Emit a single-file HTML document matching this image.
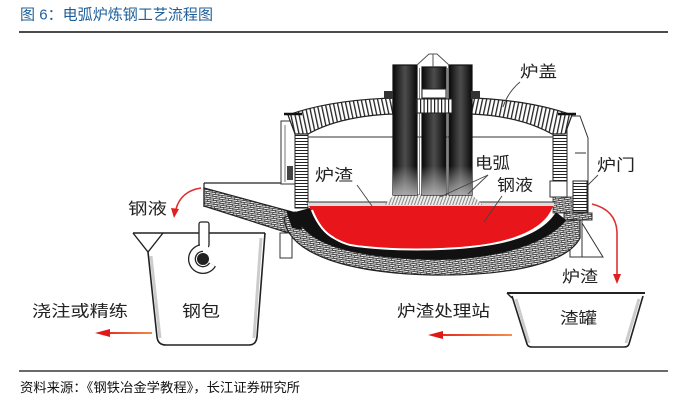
<!DOCTYPE html>
<html><head><meta charset="utf-8">
<style>
html,body{margin:0;padding:0;background:#fff;}
body{width:684px;height:406px;overflow:hidden;}
svg{display:block;}
text{font-family:"Liberation Sans","Noto Sans CJK SC",sans-serif;}
</style></head><body>
<svg width="684" height="406" viewBox="0 0 684 406" xmlns="http://www.w3.org/2000/svg">
<defs>
  <pattern id="vsl" width="4" height="4" patternUnits="userSpaceOnUse" patternTransform="rotate(-12)"><rect width="4" height="4" fill="#fff"/><rect width="1.3" height="4" fill="#222"/></pattern>
  <pattern id="vsr" width="4" height="4" patternUnits="userSpaceOnUse" patternTransform="rotate(12)"><rect width="4" height="4" fill="#fff"/><rect width="1.3" height="4" fill="#222"/></pattern>
  <pattern id="vs" width="3.5" height="4" patternUnits="userSpaceOnUse"><rect width="3.5" height="4" fill="#fff"/><rect width="1.2" height="4" fill="#222"/></pattern>
  <pattern id="hs" width="4" height="3" patternUnits="userSpaceOnUse"><rect width="4" height="3" fill="#fff"/><rect width="4" height="1" fill="#222"/></pattern>
  <pattern id="br" width="6" height="4" patternUnits="userSpaceOnUse" patternTransform="rotate(-8)"><rect width="6" height="4" fill="#f2f2f2"/><path d="M0,0.5 H6 M0.5,0 V2 M3.5,2 V4 M0,2.5 H6" stroke="#444" stroke-width="0.9"/></pattern>
  <pattern id="sp" width="3" height="4" patternUnits="userSpaceOnUse" patternTransform="rotate(20)"><rect width="3" height="4" fill="#eee"/><rect width="1" height="4" fill="#888"/></pattern>
  <linearGradient id="el" x1="0" y1="0" x2="1" y2="0">
    <stop offset="0" stop-color="#080808"/><stop offset="0.3" stop-color="#333"/><stop offset="0.5" stop-color="#4c4c4c"/><stop offset="0.7" stop-color="#333"/><stop offset="1" stop-color="#080808"/>
  </linearGradient>
  <linearGradient id="eb" x1="0" y1="0" x2="0" y2="1">
    <stop offset="0" stop-color="#ccc" stop-opacity="0"/><stop offset="1" stop-color="#bbb" stop-opacity="0.85"/>
  </linearGradient>
  <linearGradient id="ga" gradientUnits="userSpaceOnUse" x1="95" y1="0" x2="155" y2="0">
    <stop offset="0" stop-color="#e01818"/><stop offset="1" stop-color="#f29048"/>
  </linearGradient>
  <linearGradient id="gb" gradientUnits="userSpaceOnUse" x1="428" y1="0" x2="512" y2="0">
    <stop offset="0" stop-color="#e01818"/><stop offset="1" stop-color="#f29048"/>
  </linearGradient>
</defs>

<!-- title & rules -->
<text x="20" y="19.5" font-size="15" fill="#1f5f99" textLength="193" lengthAdjust="spacingAndGlyphs">图 6：电弧炉炼钢工艺流程图</text>
<line x1="19" y1="32" x2="668" y2="32" stroke="#111" stroke-width="1.4"/>
<line x1="19" y1="371" x2="668" y2="371" stroke="#111" stroke-width="1.3"/>
<text x="20" y="392" font-size="13" fill="#111" textLength="280" lengthAdjust="spacingAndGlyphs">资料来源：《钢铁冶金学教程》，长江证券研究所</text>

<!-- spout / launder -->
<line x1="204" y1="183" x2="292" y2="183" stroke="#222" stroke-width="1.2"/>
<line x1="204" y1="183" x2="204" y2="207" stroke="#222" stroke-width="1.2"/>
<path d="M204,188 L296,213 L298,236 L204,206 Z" fill="url(#br)" stroke="#222" stroke-width="1.2"/>
<rect x="280" y="233" width="12" height="25" fill="#fff" stroke="#333" stroke-width="1"/>

<!-- left shell -->
<rect x="281" y="121" width="14" height="63" fill="#fff" stroke="#333" stroke-width="1"/>
<line x1="285" y1="125" x2="285" y2="182" stroke="#555" stroke-width="0.8"/>
<rect x="287" y="166" width="6" height="14" fill="#444"/>

<!-- right shell -->
<path d="M567,116 L580,116 L588,138 L588,213 L567,213 Z" fill="#fff" stroke="#333" stroke-width="1"/>
<line x1="575" y1="153" x2="586" y2="153" stroke="#333" stroke-width="1"/>
<rect x="573" y="181" width="14" height="31" fill="url(#hs)" stroke="#222" stroke-width="1"/>
<rect x="553" y="197" width="20" height="16" fill="url(#br)" stroke="#333" stroke-width="0.8"/>
<rect x="550" y="181" width="17" height="16" fill="#fff" stroke="#333" stroke-width="1"/>
<rect x="564" y="213" width="28" height="7" fill="url(#br)" stroke="#333" stroke-width="1"/>
<rect x="570" y="220" width="12" height="37" fill="#fff" stroke="#333" stroke-width="1"/>
<path d="M582,223 L603,257 L582,257" fill="none" stroke="#333" stroke-width="1"/>

<!-- walls -->
<rect x="295" y="133" width="13" height="75" fill="url(#hs)" stroke="#222" stroke-width="1"/>
<rect x="553" y="133" width="14" height="48" fill="url(#hs)" stroke="#222" stroke-width="1"/>

<!-- roof -->
<path d="M288,115 Q330,100 393,98 L393,114 Q340,116 308,134 L295,134 Z" fill="url(#vsl)" stroke="#222" stroke-width="1.2"/>
<path d="M572,115 Q530,100 471,98 L471,114 Q520,116 552,134 L565,134 Z" fill="url(#vsr)" stroke="#222" stroke-width="1.2"/>
<line x1="284" y1="114" x2="302" y2="114" stroke="#111" stroke-width="2.5"/>
<line x1="558" y1="114" x2="576" y2="114" stroke="#111" stroke-width="2.5"/>
<line x1="308" y1="137" x2="553" y2="137" stroke="#333" stroke-width="1"/>

<!-- hearth -->
<path d="M284,218 C288,255 350,273 432,275 C515,276 568,262 580,238 L580,220 L566,220 C545,245 490,262 420,259 C340,256 302,240 295,212 Z" fill="url(#br)" stroke="#222" stroke-width="1.2"/>
<path d="M286,210 L300,214 L302,230 L292,228 Z" fill="#111"/>
<path d="M295,212 C302,240 340,256 420,259 C490,262 545,245 566,220 L556,212 C545,230 520,243 470,248 C430,252 380,251 350,246 C328,240 316,225 310,208 Z" fill="#111"/>
<path d="M309,206 L553,206 C546,226 520,241 470,246 C430,250 380,249 350,244 C329,238 316,224 309,206 Z" fill="#e8151b"/>
<path d="M312,210 C318,225 326,234 334,238" fill="none" stroke="#fff" stroke-width="2"/>
<rect x="308" y="202" width="246" height="4" fill="#ddd"/>
<line x1="306" y1="202" x2="555" y2="202" stroke="#333" stroke-width="1"/>

<!-- arc sparks -->
<path d="M384,205 L395,194 L471,194 L483,205 Z" fill="url(#sp)"/>

<!-- electrodes -->
<rect x="393" y="65" width="24" height="130" fill="url(#el)" stroke="#111" stroke-width="1.2"/>
<rect x="422" y="67" width="24" height="128" fill="url(#el)" stroke="#111" stroke-width="1.2"/>
<rect x="449" y="65" width="23" height="130" fill="url(#el)" stroke="#111" stroke-width="1.2"/>
<rect x="393" y="166" width="24" height="29" fill="url(#eb)"/>
<rect x="422" y="166" width="24" height="29" fill="url(#eb)"/>
<rect x="449" y="166" width="23" height="29" fill="url(#eb)"/>
<line x1="419.5" y1="68" x2="419.5" y2="195" stroke="#666" stroke-width="0.8"/>
<line x1="447.5" y1="68" x2="447.5" y2="195" stroke="#666" stroke-width="0.8"/>
<rect x="422" y="89" width="24" height="9" fill="#fff" stroke="#222" stroke-width="1"/>
<rect x="416" y="99" width="36" height="14" fill="url(#vs)" stroke="#222" stroke-width="1"/>
<rect x="384" y="91" width="9" height="8" fill="#333"/>
<rect x="471" y="91" width="9" height="8" fill="#333"/>
<path d="M417,65 L429,54 L437,54 L449,65 M433,54 L433,67" fill="none" stroke="#555" stroke-width="1"/>

<!-- leader lines -->
<path d="M520,82 Q508,92 503,107" fill="none" stroke="#444" stroke-width="0.9"/>
<line x1="357" y1="185" x2="372" y2="206" stroke="#444" stroke-width="0.9"/>
<line x1="488" y1="175" x2="468" y2="194" stroke="#444" stroke-width="0.9"/>
<line x1="488" y1="175" x2="440" y2="197" stroke="#444" stroke-width="0.9"/>
<line x1="502" y1="196" x2="484" y2="222" stroke="#444" stroke-width="0.9"/>
<line x1="598" y1="175" x2="588" y2="185" stroke="#444" stroke-width="0.9"/>

<!-- ladle -->
<line x1="133" y1="233" x2="265" y2="233" stroke="#222" stroke-width="1.6"/>
<path d="M133,233 L148,252 L163,233" fill="none" stroke="#222" stroke-width="1.4"/>
<path d="M151,256 L160,338" stroke="#ccc" stroke-width="3" fill="none"/>
<path d="M261,238 L254,338" stroke="#ccc" stroke-width="3" fill="none"/>
<path d="M148,252 L157,337 Q158,345 166,345 L249,345 Q256,345 257,337 L265,233" fill="none" stroke="#222" stroke-width="1.6"/>
<rect x="199" y="222" width="10" height="25" rx="2" fill="#fff" stroke="#222" stroke-width="1.3"/>
<path d="M203,248 A11,11 0 1 0 212.5,264.5" fill="none" stroke="#222" stroke-width="8"/>
<path d="M203,248 A11,11 0 1 0 212.5,264.5" fill="none" stroke="#fff" stroke-width="5.4"/>
<rect x="200" y="240" width="8" height="8" fill="#fff"/>
<circle cx="203" cy="259" r="6" fill="#222"/>

<!-- slag pot -->
<path d="M516,299 L529,343" stroke="#ccc" stroke-width="3" fill="none"/>
<path d="M639,299 L626,343" stroke="#ccc" stroke-width="3" fill="none"/>
<line x1="507" y1="293" x2="645" y2="293" stroke="#222" stroke-width="2"/>
<path d="M507,293 L512,298" stroke="#222" stroke-width="1.4"/>
<path d="M512,296 L527,344 Q528,347 532,347 L624,347 Q628,347 629,344 L643,296" fill="none" stroke="#222" stroke-width="1.6"/>

<!-- arrows -->
<line x1="152" y1="333" x2="106" y2="333" stroke="url(#ga)" stroke-width="2"/>
<polygon points="95,333 110,329 110,337" fill="#e01818"/>
<line x1="512" y1="335" x2="440" y2="335" stroke="url(#gb)" stroke-width="2"/>
<polygon points="428,335 443,331 443,339" fill="#e01818"/>
<path d="M201,188 Q181,191 176,209" fill="none" stroke="#e03030" stroke-width="1.6"/>
<polygon points="174,218 171,208 179,209" fill="#e02020"/>
<path d="M592,204 Q616,210 617,232 L617,276" fill="none" stroke="#e03030" stroke-width="1.6"/>
<polygon points="617,284 613,274 621,274" fill="#e02020"/>

<!-- labels -->
<g font-size="16" fill="#222">
<text x="520" y="77" textLength="37" lengthAdjust="spacingAndGlyphs">炉盖</text>
<text x="475" y="168.5" textLength="35" lengthAdjust="spacingAndGlyphs">电弧</text>
<text x="497" y="190.5" textLength="36" lengthAdjust="spacingAndGlyphs">钢液</text>
<text x="315" y="180.5" textLength="38" lengthAdjust="spacingAndGlyphs">炉渣</text>
<text x="597" y="170.5" textLength="38" lengthAdjust="spacingAndGlyphs">炉门</text>
<text x="128" y="214" textLength="39" lengthAdjust="spacingAndGlyphs">钢液</text>
<text x="562" y="282" textLength="36" lengthAdjust="spacingAndGlyphs">炉渣</text>
<text x="560" y="323.5" textLength="37" lengthAdjust="spacingAndGlyphs">渣罐</text>
<text x="397" y="316.5" textLength="93" lengthAdjust="spacingAndGlyphs">炉渣处理站</text>
<text x="182" y="316.5" textLength="38" lengthAdjust="spacingAndGlyphs">钢包</text>
<text x="32" y="316.5" textLength="96" lengthAdjust="spacingAndGlyphs">浇注或精练</text>
</g>
</svg>
</body></html>
